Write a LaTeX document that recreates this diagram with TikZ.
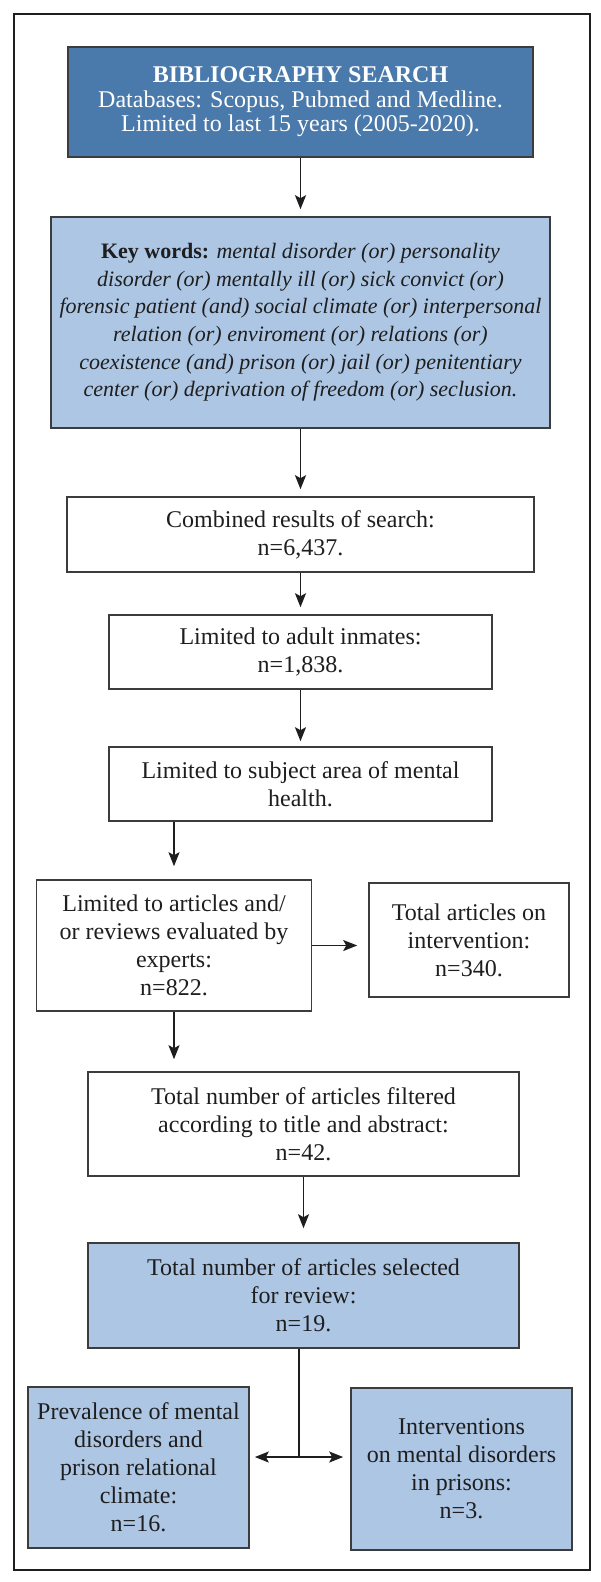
\documentclass[tikz,border=0pt]{standalone}
\usepackage{fontspec}
\setmainfont{Liberation Serif}
\usetikzlibrary{arrows.meta}
\definecolor{darkblue}{HTML}{4A7AAB}
\definecolor{lightblue}{HTML}{ADC6E4}
\definecolor{edgegray}{HTML}{3C3C3C}
\definecolor{inkc}{HTML}{1E1E1E}
\tikzset{
  box/.style={draw=edgegray, line width=1.6pt, fill=white, inner sep=0pt,
    align=center, text=inkc, font=\fontsize{24}{28}\selectfont},
  lbox/.style={box, fill=lightblue},
  dbox/.style={box, fill=darkblue, text=white, font=\fontsize{24}{24.5}\selectfont},
  arr/.style={draw=inkc, line width=1.8pt,
    -{Stealth[length=14pt, width=11pt, inset=3pt]}},
  plain/.style={draw=inkc, line width=1.8pt}
}
\begin{document}
\begin{tikzpicture}[x=1pt,y=-1pt]
\useasboundingbox (0,0) rectangle (600,1582);
\draw[draw=inkc, line width=2pt] (14,14) rectangle (590,1570);

\node[dbox, minimum width=465pt, minimum height=110pt] (b1) at (300.5,102)
  {{\bfseries BIBLIOGRAPHY SEARCH}\\Databases: Scopus, Pubmed and Medline.\\Limited to last 15 years (2005-2020).};

\node[lbox, minimum width=499pt, minimum height=211pt, font=\fontsize{22}{27.6}\selectfont] (b2) at (300.5,322.5)
  {\textbf{Key words:} \textit{mental disorder (or) personality}\\
   \textit{disorder (or) mentally ill (or) sick convict (or)}\\
   \textit{forensic patient (and) social climate (or) interpersonal}\\
   \textit{relation (or) enviroment (or) relations (or)}\\
   \textit{coexistence (and) prison (or) jail (or) penitentiary}\\
   \textit{center (or) deprivation of freedom (or) seclusion.}};

\node[box, minimum width=467pt, minimum height=75pt] (b3) at (300.5,534.5)
  {Combined results of search:\\n=6,437.};

\node[box, minimum width=383pt, minimum height=74pt] (b4) at (300.5,652)
  {Limited to adult inmates:\\n=1,838.};

\node[box, minimum width=383pt, minimum height=74pt] (b5) at (300.5,784)
  {Limited to subject area of mental\\health.};

\node[box, minimum width=275pt, minimum height=131pt] (b6) at (174,945.5)
  {Limited to articles and/\\or reviews evaluated by\\experts:\\n=822.};

\node[box, minimum width=200pt, minimum height=114pt] (b7) at (469,940)
  {Total articles on\\intervention:\\n=340.};

\node[box, minimum width=431pt, minimum height=104pt] (b8) at (303.5,1124)
  {Total number of articles filtered\\according to title and abstract:\\n=42.};

\node[lbox, minimum width=431pt, minimum height=105pt] (b9) at (303.5,1295.5)
  {Total number of articles selected\\for review:\\n=19.};

\node[lbox, minimum width=221pt, minimum height=161pt] (b10) at (138.5,1467.5)
  {Prevalence of mental\\disorders and\\prison relational\\climate:\\n=16.};

\node[lbox, minimum width=221pt, minimum height=162pt] (b11) at (461.5,1469)
  {Interventions\\on mental disorders\\in prisons:\\n=3.};

\coordinate (j) at (299,1457);

\draw[arr, shorten >=7pt] (b1.south) -- (b2.north);
\draw[arr, shorten >=7pt] (b2.south) -- (b3.north);
\draw[arr, shorten >=7pt] (b3.south) -- (b4.north);
\draw[arr, shorten >=5pt] (b4.south) -- (b5.north);
\draw[arr, shorten >=13pt] (b5.south -| b6.north) -- (b6.north);
\draw[arr, shorten >=11pt] (b6.east) -- (b6.east -| b7.west);
\draw[arr, shorten >=12pt] (b6.south) -- (b6.south |- b8.north);
\draw[arr, shorten >=14pt] (b8.south) -- (b9.north);
\draw[plain] (b9.south -| j) -- (j);
\draw[arr, shorten >=5pt] (j) -- (j -| b10.east);
\draw[arr, shorten >=7pt] (j) -- (j -| b11.west);
\end{tikzpicture}
\end{document}
